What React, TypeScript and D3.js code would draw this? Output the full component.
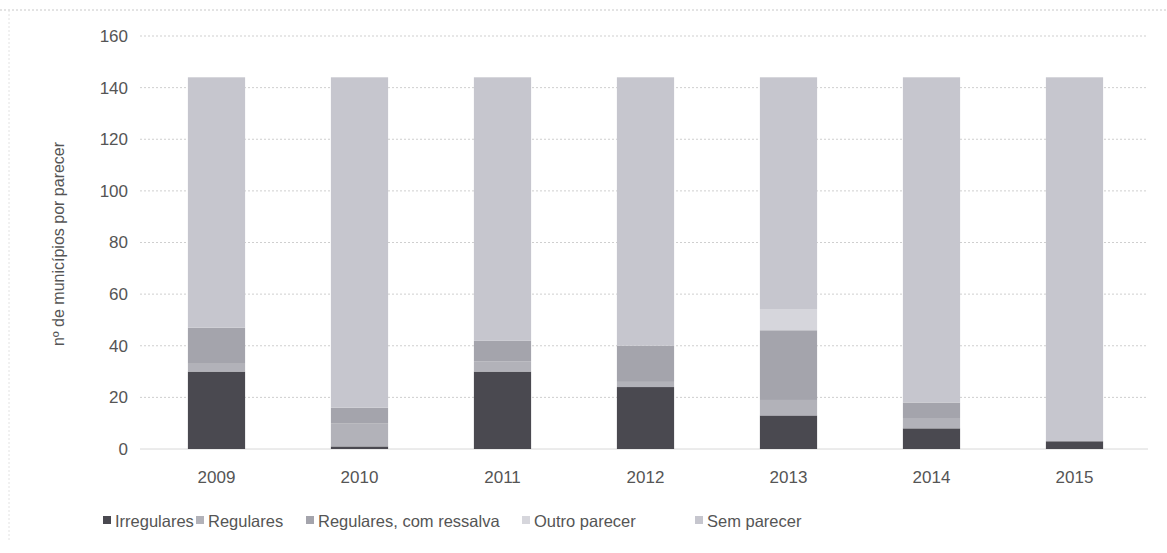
import React from 'react';
import * as d3 from 'd3';

const years = ['2009', '2010', '2011', '2012', '2013', '2014', '2015'];
const irregulares = [30, 1, 30, 24, 13, 8, 3];
const regulares = [3, 9, 4, 2, 6, 4, 0];
const comRessalva = [14, 6, 8, 14, 27, 6, 0];
const outroParecer = [0, 0, 0, 0, 8, 0, 0];
const semParecer = [97, 128, 102, 104, 90, 126, 141];
const yTicks = [0, 20, 40, 60, 80, 100, 120, 140, 160];
const seriesNames = ['Irregulares', 'Regulares', 'Regulares, com ressalva', 'Outro parecer', 'Sem parecer'];
const seriesColors = ['#4a4950', '#b2b2b9', '#a4a4ac', '#d6d6dc', '#c6c6ce'];

export default function App() {
  const W = 1167, H = 553;
  const x = d3.scaleBand<string>().domain(years).range([145, 1146]).paddingInner(0.6).paddingOuter(0.3);
  const y = d3.scaleLinear().domain([0, 160]).range([449, 36]);
  const rows = years.map((yr, i) => ({
    year: yr,
    s0: irregulares[i], s1: regulares[i], s2: comRessalva[i], s3: outroParecer[i], s4: semParecer[i],
  }));
  const stack = d3.stack<any>().keys(['s0', 's1', 's2', 's3', 's4']);
  const layers = stack(rows);
  const font = '"Liberation Sans", Arial, sans-serif';
  const legendX = [103, 196, 306, 522, 695];
  return (
    <svg width={W} height={H} style={{ position: 'absolute', left: 0, top: 0, background: '#fff' }} fontFamily={font}>
      <rect x={0} y={0} width={W} height={H} fill="#fff" />
      <line x1={0} x2={W} y1={10} y2={10} stroke="#c8c8c8" strokeDasharray="2,2" />
      <line x1={9} x2={9} y1={10} y2={540} stroke="#e2e2e2" strokeDasharray="2,2" />
      {yTicks.map(t => (
        <g key={t}>
          {t > 0 && <line x1={140} x2={1148} y1={y(t)} y2={y(t)} stroke="#cfcfcf" strokeDasharray="2,2" />}
          <text x={128} y={y(t)} dy="0.35em" textAnchor="end" fontSize={17} fill="#555">{t}</text>
        </g>
      ))}
      <line x1={140} x2={1148} y1={y(0)} y2={y(0)} stroke="#d8d8d8" />
      {layers.map((layer, li) => (
        <g key={li}>
          {layer.map((d: any, i: number) => (
            d[1] - d[0] > 0 ? (
              <rect key={i} x={x(years[i])} width={x.bandwidth()} y={y(d[1])} height={y(d[0]) - y(d[1])} fill={seriesColors[li]} />
            ) : null
          ))}
        </g>
      ))}
      {years.map(yr => (
        <text key={yr} x={(x(yr) || 0) + x.bandwidth() / 2} y={477} dy="0.35em" textAnchor="middle" fontSize={17} fill="#555">{yr}</text>
      ))}
      <text transform={`translate(64,${244}) rotate(-90)`} textAnchor="middle" fontSize={16} fill="#555">nº de municípios por parecer</text>
      {seriesNames.map((n, i) => (
        <g key={n}>
          <rect x={legendX[i]} y={516} width={8} height={8} fill={seriesColors[i]} />
          <text x={legendX[i] + 12} y={521} dy="0.35em" fontSize={16.5} fill="#555">{n}</text>
        </g>
      ))}
    </svg>
  );
}
